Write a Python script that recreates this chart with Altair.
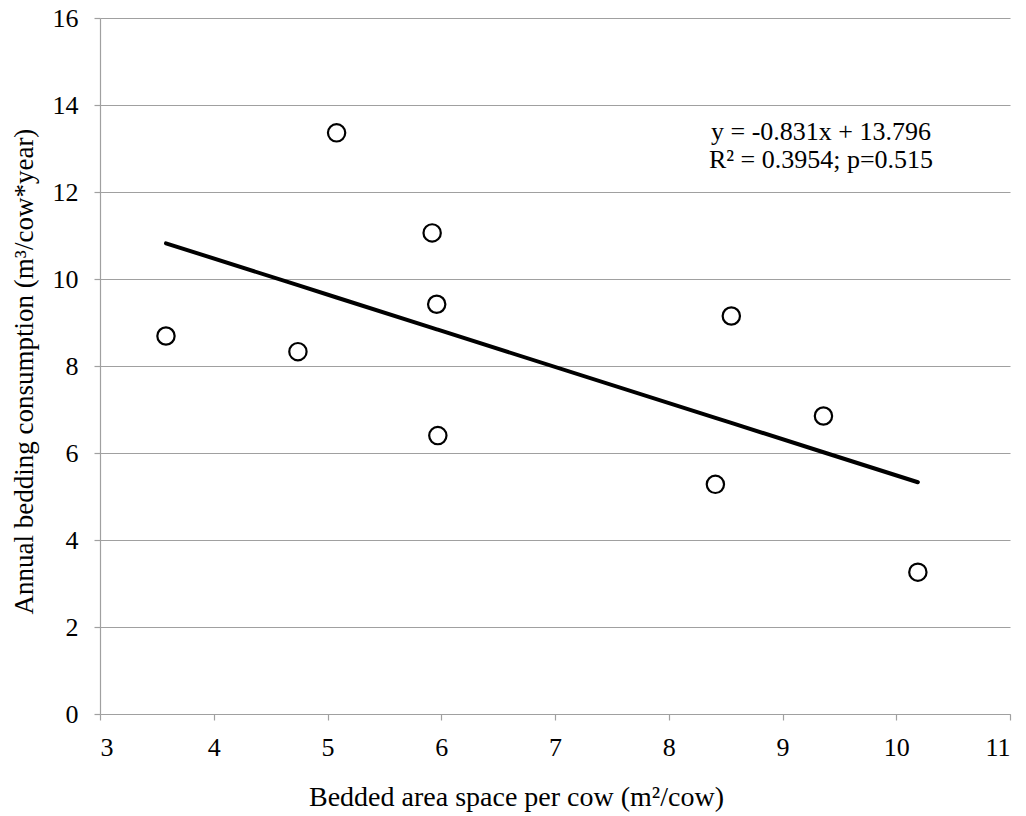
import altair as alt
import pandas as pd

# Data
space_per_cow = [3.58, 4.74, 5.08, 5.92, 5.96, 5.97, 8.41, 8.55, 9.36, 10.19]
bedding_use = [8.69, 8.33, 13.36, 11.06, 9.42, 6.40, 5.28, 9.15, 6.85, 3.26]

slope = -0.831
intercept = 13.796
eq_lines = ["y = -0.831x + 13.796", "R² = 0.3954; p=0.515"]

x_ticks = [3, 4, 5, 6, 7, 8, 9, 10, 11]
y_ticks = [0, 2, 4, 6, 8, 10, 12, 14, 16]

df = pd.DataFrame({"x": space_per_cow, "y": bedding_use})

FONT = "Liberation Serif"
GRID = "#a0a0a0"

x_enc = alt.X(
    "x:Q",
    scale=alt.Scale(domain=[3, 11], nice=False, zero=False),
    axis=alt.Axis(
        values=x_ticks,
        title="Bedded area space per cow (m²/cow)",
        grid=False,
        domainColor=GRID,
        tickColor=GRID,
        tickSize=6,
        labelPadding=14,
        titleX=416,
        titleY=91,
        titleBaseline="alphabetic",
        titleFontSize=28,
    ),
)
y_enc = alt.Y(
    "y:Q",
    scale=alt.Scale(domain=[0, 16], nice=False),
    axis=alt.Axis(
        values=y_ticks,
        title="Annual bedding consumption (m³/cow*year)",
        grid=True,
        gridColor=GRID,
        domainColor=GRID,
        tickColor=GRID,
        tickSize=6,
        labelPadding=16,
        titleX=-68,
        titleY=353,
        titleBaseline="alphabetic",
        titleFontSize=27,
    ),
)

base = alt.Chart(df)

trend = base.transform_calculate(
    fit=f"{intercept} + ({slope}) * datum.x"
).mark_line(color="black", strokeWidth=4, strokeCap="round").encode(
    x=x_enc, y=alt.Y("fit:Q")
)

points = base.mark_point(
    shape="circle", size=300, filled=False, fill="white", fillOpacity=1,
    stroke="black", strokeWidth=2.2, opacity=1
).encode(x=x_enc, y=y_enc)

eq1 = alt.Chart(pd.DataFrame({"t": [eq_lines[0]]})).mark_text(
    font=FONT, fontSize=26, color="black", align="center", baseline="alphabetic"
).encode(text="t:N", x=alt.value(721), y=alt.value(122))

eq2 = alt.Chart(pd.DataFrame({"t": [eq_lines[1]]})).mark_text(
    font=FONT, fontSize=26, color="black", align="center", baseline="alphabetic"
).encode(text="t:N", x=alt.value(721), y=alt.value(150))

chart = alt.layer(points, trend, eq1, eq2).properties(
    width=910,
    height=696,
    autosize=alt.AutoSizeParams(type="none"),
    padding={"left": 100, "top": 18, "right": 16, "bottom": 102},
).configure_view(stroke=None).configure_axis(
    labelFont=FONT,
    titleFont=FONT,
    labelFontSize=26,
    labelColor="black",
    titleColor="black",
    titleFontWeight="normal",
    gridWidth=1.2,
    domainWidth=1.2,
    tickWidth=1.2,
)

chart.save("out.html", embed_options={"renderer": "svg", "actions": False})
